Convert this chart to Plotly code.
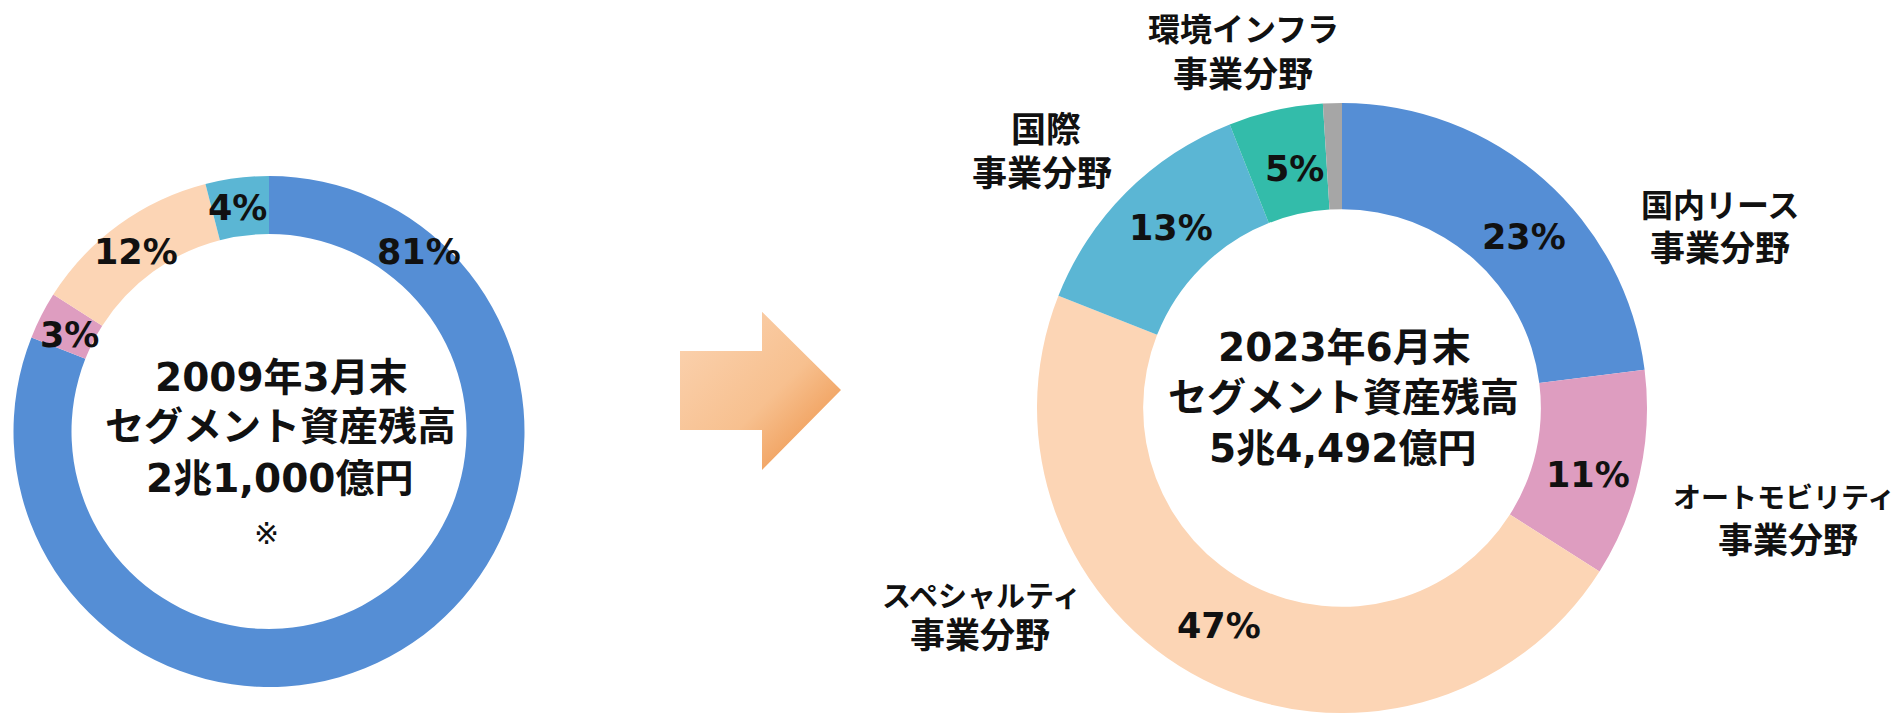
import base64
import plotly.graph_objects as go

W, H = 1902, 713

# Segment asset mix at end of March 2009 (%)
seg_2009 = ["国内リース事業分野", "オートモビリティ事業分野", "スペシャルティ事業分野", "国際事業分野"]
share_2009 = [81, 3, 12, 4]

# Segment asset mix at end of June 2023 (%)
seg_2023 = ["国内リース事業分野", "オートモビリティ事業分野", "スペシャルティ事業分野",
            "国際事業分野", "環境インフラ事業分野", "その他"]
share_2023 = [23, 11, 47, 13, 5, 1]

# Category captions drawn beside the 2023 ring (two lines each, none for その他)
caption_2023 = [("国内リース", "事業分野"), ("オートモビリティ", "事業分野"),
                ("スペシャルティ", "事業分野"), ("国際", "事業分野"),
                ("環境インフラ", "事業分野"), None]

# Centre titles
center_2009 = ["2009年3月末", "セグメント資産残高", "2兆1,000億円", "※"]
center_2023 = ["2023年6月末", "セグメント資産残高", "5兆4,492億円"]

colors_2009 = ["#558ED5", "#DE9DC0", "#FCD5B5", "#5BB6D4"]
colors_2023 = ["#558ED5", "#DE9DC0", "#FCD5B5", "#5BB6D4", "#33BCAA", "#A6A6A6"]

FONT = "DejaVu Sans, Noto Sans CJK JP, sans-serif"

# layout positions in pixels (x from left, y from top)
pct_pos_2009 = [(419, 252), (69, 335), (136, 252), (237, 208)]
pct_pos_2023 = [(1524, 237), (1588, 475), (1219, 626), (1171, 228), (1294, 169), None]
center_pos_2009 = [(281, 377), (280, 427), (280, 479), (266, 533)]
center_pos_2023 = [(1344, 347), (1343, 397), (1343, 448)]
caption_pos_2023 = [((1720, 206), (1720, 249)), ((1784, 498), (1788, 541)),
                    ((981, 597), (980, 636)), ((1046, 130), (1042, 174)),
                    ((1243, 30), (1243, 75)), None]
# first-line sizes (full-width kana set a touch smaller), second-line size
caption_size_2023 = [(32, 35), (28, 35), (29, 35), (35, 35), (32, 35), None]


def px(x, y):
    return x / W, 1 - y / H


fig = go.Figure()

fig.add_trace(go.Pie(
    values=share_2009, labels=seg_2009, sort=False, direction="clockwise", rotation=0,
    hole=0.773, textinfo="none", hoverinfo="label+percent", showlegend=False,
    marker=dict(colors=colors_2009, line=dict(width=0)),
    domain=dict(x=[13.5 / W, 524.5 / W], y=[26 / H, 537 / H]),
))

fig.add_trace(go.Pie(
    values=share_2023, labels=seg_2023, sort=False, direction="clockwise", rotation=0,
    hole=0.652, textinfo="none", hoverinfo="label+percent", showlegend=False,
    marker=dict(colors=colors_2023, line=dict(width=0)),
    domain=dict(x=[1037 / W, 1647 / W], y=[0, 610 / H]),
))

ann = []


def add_text(text, pos, size, weight="bold"):
    x, y = px(*pos)
    ann.append(dict(text=text, x=x, y=y, xref="paper", yref="paper",
                    xanchor="center", yanchor="middle", showarrow=False,
                    font=dict(family=FONT, size=size, color="#111111", weight=weight)))


for v, pos in zip(share_2009, pct_pos_2009):
    add_text(f"{v}%", pos, 35)
for v, pos in zip(share_2023, pct_pos_2023):
    if pos is not None:
        add_text(f"{v}%", pos, 35)
for t, pos in zip(center_2009, center_pos_2009):
    if t == "※":
        add_text(t, pos, 30, weight="normal")
    else:
        add_text(t, pos, 39)
for t, pos in zip(center_2023, center_pos_2023):
    add_text(t, pos, 39)
for cap, pos, sz in zip(caption_2023, caption_pos_2023, caption_size_2023):
    if cap is not None:
        add_text(cap[0], pos[0], sz[0])
        add_text(cap[1], pos[1], sz[1])

# Gradient arrow between the two rings
arrow_svg = (
    '<svg xmlns="http://www.w3.org/2000/svg" width="161" height="159" viewBox="0 0 161 159">'
    '<defs><linearGradient id="g" x1="0" y1="0" x2="1" y2="1">'
    '<stop offset="0" stop-color="#FBD4B3"/><stop offset="0.55" stop-color="#F7C08F"/>'
    '<stop offset="1" stop-color="#EC8A3A"/></linearGradient></defs>'
    '<polygon points="0,39.3 82,39.3 82,0 161,78.3 82,158.3 82,118.3 0,118.3" fill="url(#g)"/>'
    '</svg>'
)
arrow_src = "data:image/svg+xml;base64," + base64.b64encode(arrow_svg.encode()).decode()
ax, ay = px(680, 311.7)

fig.update_layout(
    width=W, height=H,
    margin=dict(l=0, r=0, t=0, b=0),
    paper_bgcolor="white", plot_bgcolor="white",
    annotations=ann,
    images=[dict(source=arrow_src, xref="paper", yref="paper", x=ax, y=ay,
                 sizex=161 / W, sizey=159 / H, xanchor="left", yanchor="top",
                 sizing="stretch", layer="above")],
)

fig.write_html("out.html")
